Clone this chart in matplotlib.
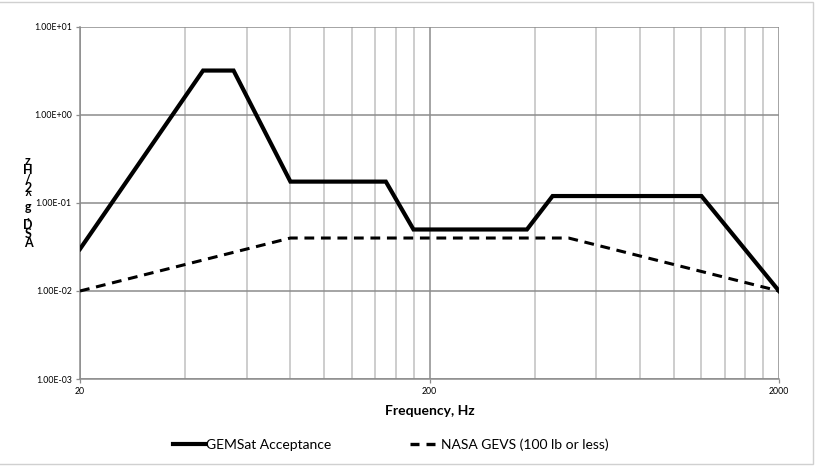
import matplotlib

matplotlib.use("Agg")
from matplotlib import pyplot as plt
from matplotlib.lines import Line2D
from matplotlib.patches import Rectangle
from matplotlib.ticker import FixedLocator, NullFormatter

plt.rcParams["font.family"] = ["Lato", "DejaVu Sans"]

# GEMSat acceptance profile
gemsat_freq = [20, 45, 55, 80, 150, 180, 380, 450, 1200, 2000]
gemsat_asd = [0.03, 3.2, 3.2, 0.175, 0.175, 0.05, 0.05, 0.12, 0.12, 0.01]

# NASA GEVS, 100 lb or less
gevs_freq = [20, 80, 500, 2000]
gevs_asd = [0.01, 0.04, 0.04, 0.01]

x_major = [20, 200, 2000]
x_minor = [40, 60, 80, 100, 120, 140, 160, 180,
           400, 600, 800, 1000, 1200, 1400, 1600, 1800]
y_major = [1e-3, 1e-2, 1e-1, 1e0, 1e1]
y_labels = ["1.00E-03", "1.00E-02", "1.00E-01", "1.00E+00", "1.00E+01"]

fig = plt.figure(figsize=(8.17, 4.69), dpi=100)
fig.patch.set_facecolor("white")
ax = fig.add_axes([80 / 817, 1 - 379 / 469, 699 / 817, 352 / 469])

ax.set_xscale("log")
ax.set_yscale("log")
ax.set_xlim(20, 2000)
ax.set_ylim(1e-3, 1e1)

for f in x_minor:
    ax.axvline(f, color="#c0c0c0", linewidth=1.1, zorder=1)
for f in x_major:
    ax.axvline(f, color="#8c8c8c", linewidth=1.1, zorder=1)
for v in y_major:
    ax.axhline(v, color="#8c8c8c", linewidth=1.1, zorder=1)

ax.plot(gemsat_freq, gemsat_asd, color="black", linewidth=3.0,
        solid_joinstyle="miter", zorder=3)
ax.plot(gevs_freq, gevs_asd, color="black", linewidth=2.2,
        linestyle=(0, (3.2, 2.2)), zorder=3)

ax.xaxis.set_major_locator(FixedLocator(x_major))
ax.xaxis.set_minor_locator(FixedLocator([]))
ax.set_xticklabels([str(f) for f in x_major])
ax.xaxis.set_minor_formatter(NullFormatter())
ax.yaxis.set_major_locator(FixedLocator(y_major))
ax.yaxis.set_minor_locator(FixedLocator([]))
ax.set_yticklabels(y_labels)
ax.tick_params(axis="both", labelsize=6.3, length=3, width=0.9,
               color="#8c8c8c", pad=3)
for side in ["top", "right"]:
    ax.spines[side].set_visible(False)
for side in ["left", "bottom"]:
    ax.spines[side].set_color("#8c8c8c")
    ax.spines[side].set_linewidth(1.1)

ax.set_xlabel("Frequency, Hz", fontsize=10, fontweight="bold", labelpad=6)

# stacked y-axis title (characters top to bottom)
ylabel_text = "ASD,g^2/Hz"
fig.text(28 / 817, 1 - 202 / 469, "\n".join(reversed(ylabel_text)),
         fontsize=9, fontweight="bold", ha="center", va="center",
         multialignment="center", linespacing=0.72)

legend_y = 1 - 445 / 469
leg1 = fig.legend([Line2D([], [], color="black", linewidth=3.0)],
                  ["GEMSat Acceptance"], loc="center left",
                  bbox_to_anchor=(173 / 817, legend_y), frameon=False,
                  fontsize=10, handlelength=2.3, handletextpad=0.1,
                  borderpad=0, borderaxespad=0)
leg2 = fig.legend([Line2D([], [], color="black", linewidth=2.4,
                          linestyle=(0, (2.7, 2.1)))],
                  ["NASA GEVS (100 lb or less)"], loc="center left",
                  bbox_to_anchor=(410 / 817, legend_y), frameon=False,
                  fontsize=10, handlelength=1.8, handletextpad=0.4,
                  borderpad=0, borderaxespad=0)

fig.patches.append(Rectangle((-0.01, 1 - 464 / 469), 813 / 817 + 0.01,
                             462 / 469, transform=fig.transFigure,
                             fill=False, edgecolor="#d0d0d0", linewidth=1.0))

fig.savefig("out.png", dpi=100)
